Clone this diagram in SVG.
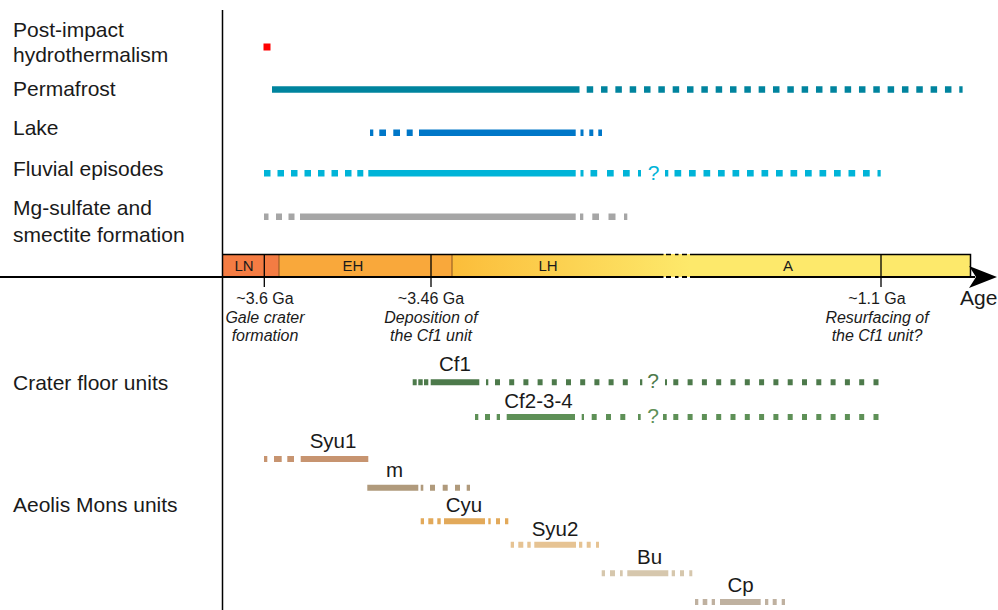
<svg xmlns="http://www.w3.org/2000/svg" width="998" height="610" viewBox="0 0 998 610">
<style>
text{font-family:"Liberation Sans",Arial,sans-serif;fill:#1a1a1a}
.lab{font-size:21px}
.unit{font-size:20.5px;text-anchor:middle}
.ann{font-size:16px;text-anchor:middle}
.it{font-style:italic}
.per{font-size:15px;text-anchor:middle}
.q{font-size:21px;text-anchor:middle}
.b{fill:none;stroke-width:6.5;stroke-linecap:butt}
.g{fill:none;stroke-width:6}
.ax{stroke:#000;fill:none}
</style>
<defs>
<linearGradient id="lh" gradientUnits="userSpaceOnUse" x1="452" y1="0" x2="690" y2="0">
<stop offset="0" stop-color="#fbbd3a"/>
<stop offset="1" stop-color="#fde96b"/>
</linearGradient>
</defs>

<g id="labels">
<text class="lab" x="13" y="37">Post-impact</text>
<text class="lab" x="13" y="62">hydrothermalism</text>
<text class="lab" x="13" y="96">Permafrost</text>
<text class="lab" x="13" y="135">Lake</text>
<text class="lab" x="13" y="176">Fluvial episodes</text>
<text class="lab" x="13" y="215">Mg-sulfate and</text>
<text class="lab" x="13" y="242">smectite formation</text>
<text class="lab" x="13" y="390">Crater floor units</text>
<text class="lab" x="13" y="512">Aeolis Mons units</text>
</g>

<g id="timescale">
<rect x="222" y="254" width="57" height="23" fill="#f47c43"/>
<rect x="279" y="254" width="173" height="23" fill="#f9a83b"/>
<rect x="452" y="254" width="518" height="23" fill="url(#lh)"/>
<line x1="279" y1="254" x2="279" y2="277" stroke="#8a5520" stroke-width="1"/>
<line x1="452" y1="254" x2="452" y2="277" stroke="#8a5520" stroke-width="1"/>
<path class="ax" stroke-width="1.5" d="M222 254.5H663.5M690 254.5H970.5V277M666 254.5h5M675 254.5h3.5M682 254.5h5"/>
<text class="per" x="244" y="271">LN</text>
<text class="per" x="353" y="271">EH</text>
<text class="per" x="548" y="271">LH</text>
<text class="per" x="788" y="271">A</text>
</g>

<g id="axes">
<line class="ax" x1="222.5" y1="10" x2="222.5" y2="610" stroke-width="1.5"/>
<path class="ax" stroke-width="2" d="M0 277H663.5M690 277H975M666 277h5M675 277h3.5M682 277h5"/>
<polygon points="969,266 997,277 969,288 976,277" fill="#000"/>
<path class="ax" stroke-width="1.3" d="M264.3 254V287M431 254V287M881 254V287"/>
<text class="lab" x="960" y="305">Age</text>
</g>

<g id="ages">
<text class="ann" x="265" y="304">~3.6 Ga</text>
<text class="ann it" x="265" y="323">Gale crater</text>
<text class="ann it" x="265" y="341">formation</text>
<text class="ann" x="431" y="304">~3.46 Ga</text>
<text class="ann it" x="431" y="323">Deposition of</text>
<text class="ann it" x="431" y="341">the Cf1 unit</text>
<text class="ann" x="877" y="304">~1.1 Ga</text>
<text class="ann it" x="877" y="323">Resurfacing of</text>
<text class="ann it" x="877" y="341">the Cf1 unit?</text>
</g>

<g id="hydrothermalism">
<rect x="263.5" y="43.5" width="7" height="7" fill="#ff0000"/>
</g>

<g id="permafrost">
<path class="b" stroke="#00849e" d="M272 89.5H579.5"/>
<path class="b" stroke="#00849e" stroke-dasharray="6.5 7.83" d="M586.7 89.5H962.6"/>
</g>

<g id="lake">
<path class="b" stroke="#0077c8" d="M370 132.7h3.3M379.3 132.7h6.7M393.3 132.7h6.7M406.7 132.7h6M419 132.7H575.7M580.5 132.7h3M589.3 132.7h4M598.3 132.7h3.7"/>
</g>

<g id="fluvial">
<path class="b" stroke="#00b4d8" d="M264 173.3h6.5M277.5 173.3h6.5M291 173.3h6.5M304.5 173.3h6.5M318 173.3h6.5M331.5 173.3h6.5M345 173.3h6.5M357.3 173.3h6M368.3 173.3H575.7M580.5 173.3h3M590.5 173.3h6.7M607 173.3h6.7M623 173.3h6.7M638 173.3h3M665 173.3h3.3"/>
<path class="b" stroke="#00b4d8" stroke-dasharray="6.7 7.8" d="M674.5 173.3H880.7"/>
<text class="q" x="653.5" y="180" style="fill:#00b4d8">?</text>
</g>

<g id="mg-sulfate">
<path class="b" stroke="#a6a6a6" d="M264 216.7h4.5M276 216.7h6M288.5 216.7h6M300 216.7H575.7M580 216.7h3.3M592.3 216.7h6.7M608.5 216.7h7M624 216.7h3.3"/>
</g>

<g id="cf1">
<text class="unit" x="455" y="371">Cf1</text>
<path class="g" stroke="#4d7a4b" d="M412.7 382.3h4M418.3 382.3h4.4M424 382.3h4.3M430.7 382.3H479.3M486 382.3h2.3M640 382.3h2.3M665 382.3h2"/>
<path class="g" stroke="#4d7a4b" stroke-dasharray="5 9.2" d="M495 382.3H636"/>
<path class="g" stroke="#4d7a4b" stroke-dasharray="5 9.3" d="M673.3 382.3H880.7"/>
<text class="q" x="653" y="388" style="fill:#4d7a4b">?</text>
</g>

<g id="cf2-3-4">
<text class="unit" x="538.5" y="408">Cf2-3-4</text>
<path class="g" stroke="#5e9057" d="M475 417h3.3M485 417h5M496.7 417h3.3M506.7 417H575M581.7 417h2.3M638 417h2.7M663 417h3.7"/>
<path class="g" stroke="#5e9057" stroke-dasharray="5 9.3" d="M591.7 417H634"/>
<path class="g" stroke="#5e9057" stroke-dasharray="5 9.3" d="M673.3 417H880.7"/>
<text class="q" x="653" y="423" style="fill:#5e9057">?</text>
</g>

<g id="syu1">
<text class="unit" x="333" y="448">Syu1</text>
<path class="g" stroke="#c79470" d="M264 459h3.3M274 459h7.7M287.3 459h6.7M300.7 459H368.3"/>
</g>

<g id="m">
<text class="unit" x="394.5" y="477">m</text>
<path class="g" stroke="#b09a7c" d="M367.3 487.7H418.3M420.7 487.7h2.6M430 487.7h5M442.7 487.7h5M455 487.7h5M466.7 487.7h3.3"/>
</g>

<g id="cyu">
<text class="unit" x="464" y="512">Cyu</text>
<path class="g" stroke="#e2a95a" d="M420.7 521.3h3.3M428.3 521.3h5M437.3 521.3h3.4M444 521.3H485M488.3 521.3h2.4M496 521.3h4M505 521.3h3.3"/>
</g>

<g id="syu2">
<text class="unit" x="555" y="536">Syu2</text>
<path class="g" stroke="#e6c393" d="M510.7 544.7h3.3M518.3 544.7h5M527.3 544.7h3.4M534.3 544.7H576M579 544.7h3.3M586.7 544.7h4M596 544.7h3"/>
</g>

<g id="bu">
<text class="unit" x="649.5" y="564">Bu</text>
<path class="g" stroke="#d6c7ad" d="M601.7 573.3h3.3M610 573.3h5M620 573.3h2.7M627.3 573.3H668.3M671.7 573.3h3.3M680 573.3h4M689.3 573.3h3"/>
</g>

<g id="cp">
<text class="unit" x="740.5" y="592">Cp</text>
<path class="g" stroke="#bfb1a0" d="M695 602h3.3M702.7 602h4.6M711.7 602h3.3M720 602H760.7M765 602h3.3M772.7 602h4M781.7 602h3.3"/>
</g>
</svg>
